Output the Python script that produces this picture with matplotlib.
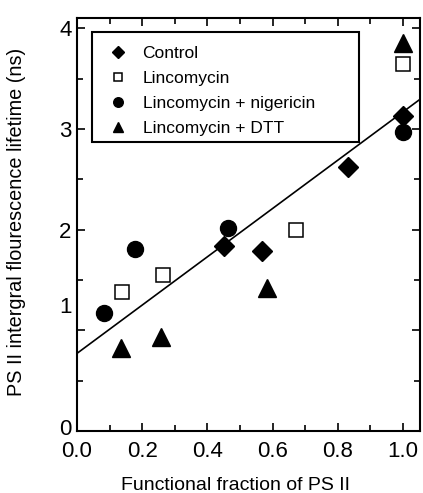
import numpy as np
import matplotlib
matplotlib.use("Agg")
import matplotlib.pyplot as plt
from matplotlib.patches import Rectangle
from matplotlib.transforms import ScaledTranslation

plt.rcParams["font.family"] = ["Liberation Sans", "DejaVu Sans"]

# values
control_x = [0.45, 0.567, 0.832, 1.0]
control_y = [1.84, 1.79, 2.62, 3.13]
linco_x = [0.138, 0.264, 0.671, 1.0]
linco_y = [1.38, 1.55, 2.00, 3.65]
niger_x = [0.083, 0.178, 0.464, 1.0]
niger_y = [1.17, 1.81, 2.02, 2.97]
dtt_x = [0.134, 0.258, 0.582, 1.0]
dtt_y = [0.82, 0.93, 1.42, 3.85]

fit_intercept = 0.77
fit_slope = 2.40

fig = plt.figure(figsize=(4.23, 4.93), dpi=100)
ax = fig.add_axes([0.182, 0.126, 0.811, 0.837])

ax.plot(control_x, control_y, "D", color="black", ms=10.5, ls="none", label="Control")
ax.plot(linco_x, linco_y, "s", mfc="white", mec="black", mew=1.1, ms=10, ls="none", label="Lincomycin")
ax.plot(niger_x, niger_y, "o", color="black", ms=11.5, ls="none", label="Lincomycin + nigericin")
ax.plot(dtt_x, dtt_y, "^", color="black", ms=12.5, ls="none", label="Lincomycin + DTT")

xs = np.array([0.0, 1.05])
ax.plot(xs, fit_intercept + fit_slope * xs, color="black", lw=1.2)

ax.set_xlim(0, 1.052)
ax.set_ylim(0, 4.1)
ax.set_xticks(np.arange(0, 1.01, 0.2))
ax.set_xticks(np.arange(0.1, 1.01, 0.2), minor=True)
ax.set_yticks([0, 1, 2, 3, 4])
ax.set_yticks([0.5, 1.5, 2.5, 3.5], minor=True)
ax.set_xticklabels(["0.0", "0.2", "0.4", "0.6", "0.8", "1.0"])
for s in ax.spines.values():
    s.set_linewidth(1.5)
ax.tick_params(which="both", direction="in", top=True, right=True, width=1.2, labelsize=16)
ax.tick_params(which="major", length=6)
ax.tick_params(axis="x", which="major", pad=7)
ax.tick_params(axis="y", which="major", pad=4)
ax.tick_params(which="minor", length=4)

# the "1" label sits a bit above its tick in the original, "0" slightly too
ylabs = ax.get_yticklabels()
ylabs[1].set_transform(ylabs[1].get_transform() + ScaledTranslation(0, 0.25, fig.dpi_scale_trans))
ylabs[0].set_transform(ylabs[0].get_transform() + ScaledTranslation(0, 0.04, fig.dpi_scale_trans))

ax.set_xlabel("Functional fraction of PS II", fontsize=14)
ax.set_ylabel("PS II intergral flourescence lifetime (ns)", fontsize=14.3)
ax.xaxis.set_label_coords(0.462, -0.111)
ax.yaxis.set_label_coords(-0.149, 0.507)

leg = ax.legend(loc="upper left", bbox_to_anchor=(0.09, 0.933), frameon=False,
                fontsize=12.5, markerscale=0.6, handletextpad=0.8,
                labelspacing=0.56, borderpad=0, borderaxespad=0, handlelength=1.2)
ax.add_patch(Rectangle((0.044, 0.70), 0.778, 0.266, transform=ax.transAxes,
                       fill=False, edgecolor="black", lw=1.5, zorder=5))

fig.savefig("out.png", dpi=100)
